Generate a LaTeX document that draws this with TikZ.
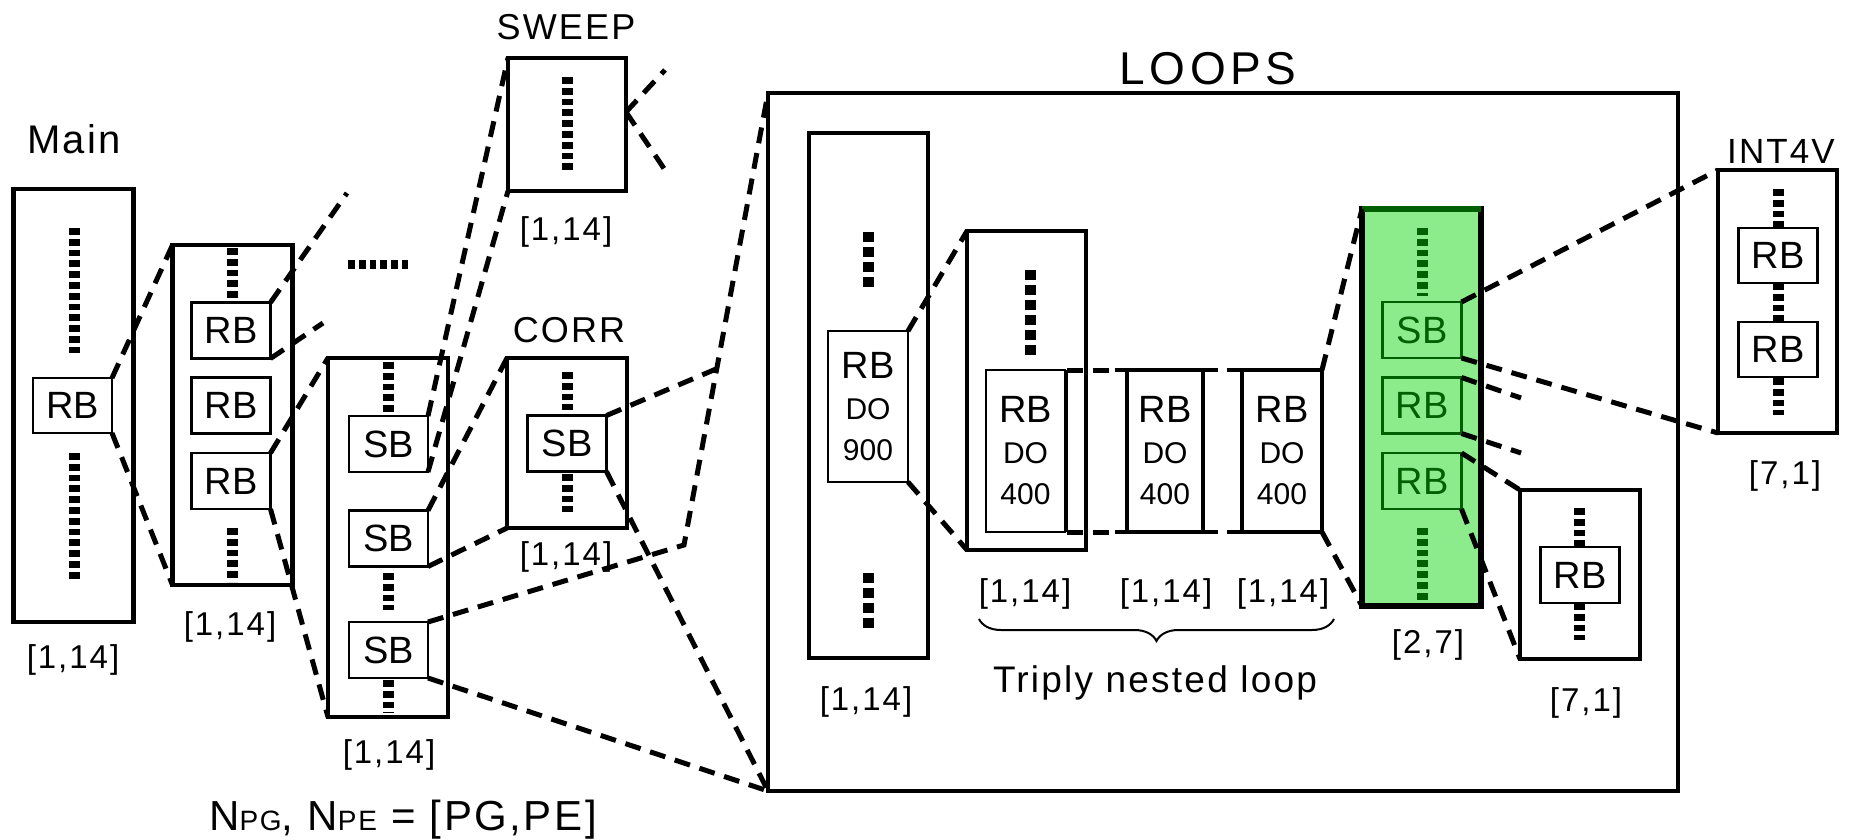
\documentclass[tikz,border=0pt]{standalone}
\usepackage{fontspec}
\setmainfont{Liberation Sans}
\newfontfamily\spaced{Liberation Sans}[LetterSpace=6]
\newfontfamily\wide{Liberation Sans}[LetterSpace=10]
\usetikzlibrary{calc,decorations.pathreplacing}
\definecolor{leaf}{RGB}{140,236,140}
\definecolor{deepgreen}{RGB}{0,95,0}
\tikzset{
  base/.style={inner sep=0pt, outer sep=0pt},
  blk/.style={base, draw, line width=2.2pt},
  col/.style={blk, minimum width=60pt},
  sub/.style={base, draw, fill=white, line width=1.3pt, font=\fontsize{19}{20}\selectfont},
  rb/.style={sub, minimum width=39.5pt, minimum height=28pt},
  doblk/.style={sub, align=center, font=\fontsize{19}{20.5}\selectfont},
  lbl/.style={base, anchor=base, font=\spaced\fontsize{16.5}{18}\selectfont},
  head/.style={base, anchor=base, font=\spaced\fontsize{18}{20}\selectfont},
  link/.style={line width=2.5pt, dash pattern=on 8pt off 5pt},
  dots/.style={line width=5.5pt, dash pattern=on 3.4pt off 2pt},
  ldots/.style={line width=5.5pt, dash pattern=on 5pt off 2.5pt},
}
\newcommand{\dolbl}[1]{RB\\{\fontsize{15}{20.5}\selectfont DO}\\{\fontsize{15}{20.5}\selectfont #1}}

\begin{document}
\begin{tikzpicture}[x=0.5pt,y=-0.5pt]
  \useasboundingbox (0,0) rectangle (1849,840);

  % outer boxes
  \node[col, minimum height=216.5pt] (main) at (73.5,405.5) {};
  \node[col, minimum height=170pt] (b2) at (232.5,415) {};
  \node[col, minimum height=179.5pt] (b3) at (388,537.5) {};
  \node[blk, minimum width=59pt, minimum height=66.5pt] (sweep) at (567,124.5) {};
  \node[col, minimum height=85pt] (corr) at (567,443) {};
  \node[blk, minimum width=455pt, minimum height=349pt] (loops) at (1223,442) {};
  \node[blk, minimum width=59.5pt, minimum height=262.5pt] (l1) at (868.5,395.5) {};
  \node[blk, minimum width=59.5pt, minimum height=159.5pt] (l2) at (1026.5,390.5) {};
  \node[blk, line width=2.6pt, fill=leaf, minimum width=59.5pt, minimum height=198.5pt] (green) at (1421.5,407.5) {};
  \draw[deepgreen, line width=2.6pt] (green.north west) -- (green.north east);
  \node[col, minimum height=84.5pt] (s71) at (1580,574.5) {};
  \node[blk, minimum width=59.5pt, minimum height=131.5pt] (int4v) at (1777.5,301.5) {};

  % dotted columns
  \draw[dots] (74,228) -- (74,353);
  \draw[dots] (74,453) -- (74,580);
  \draw[dots] (232,248) -- (232,298);
  \draw[dots] (232,528) -- (232,582);
  \draw[dots] (388,362) -- (388,412);
  \draw[dots] (388,573) -- (388,610);
  \draw[dots] (388,680) -- (388,713);
  \draw[dots] (567,77) -- (567,171);
  \draw[dots] (567,372) -- (567,410);
  \draw[dots] (567,474) -- (567,512);
  \draw[dots, line width=4.5pt] (348,264) -- (408,264);
  \draw[ldots] (868,232) -- (868,287);
  \draw[ldots] (868,573) -- (868,628);
  \draw[ldots] (1030,270) -- (1030,355);
  \draw[dots, deepgreen] (1422,228) -- (1422,296);
  \draw[dots, deepgreen] (1422,528) -- (1422,603);
  \draw[dots] (1579,508) -- (1579,547);
  \draw[dots] (1579,603) -- (1579,640);
  \draw[dots] (1778,189) -- (1778,228);
  \draw[dots] (1778,283) -- (1778,321);
  \draw[dots] (1778,378) -- (1778,415);

  % inner blocks
  \node[rb, minimum height=27.5pt] (mainrb) at (72.5,405.5) {RB};
  \node[rb] (b2rb1) at (231,330.5) {RB};
  \node[rb] (b2rb2) at (231,405.5) {RB};
  \node[rb] (b2rb3) at (231,481) {RB};
  \node[rb] (b3sb1) at (388.5,444) {SB};
  \node[rb] (b3sb2) at (388.5,538.5) {SB};
  \node[rb] (b3sb3) at (388.5,650) {SB};
  \node[rb] (corrsb) at (567,443.5) {SB};
  \node[doblk, minimum width=40pt, minimum height=75.5pt] (l1rb) at (868,406.5) {\dolbl{900}};
  \node[doblk, minimum width=39.5pt, minimum height=81pt] (l2rb) at (1025.5,451) {\dolbl{400}};
  \node[doblk, draw=none, fill=none, minimum width=38pt, minimum height=81pt] (l3) at (1165,451) {\dolbl{400}};
  \node[doblk, draw=none, fill=none, minimum width=40pt, minimum height=81pt] (l4) at (1282,451) {\dolbl{400}};
  \node[rb, fill=none, draw=deepgreen, text=deepgreen] (gsb) at (1422,330) {SB};
  \node[rb, fill=none, draw=deepgreen, text=deepgreen] (grb1) at (1422,405.5) {RB};
  \node[rb, fill=none, draw=deepgreen, text=deepgreen] (grb2) at (1422,481) {RB};
  \node[rb] (s71rb) at (1580,575) {RB};
  \node[rb, minimum height=27.5pt] (irb1) at (1778,255.5) {RB};
  \node[rb, minimum height=27.5pt] (irb2) at (1778,349.5) {RB};

  % nested loop frames
  \coordinate (brt) at (1067,370);
  \coordinate (brb) at (1067,532);
  \draw[line width=1.3pt] (brt) -- (brb);
  \draw[line width=2.2pt] ([xshift=-6pt]l3.north west) -- ([xshift=7.5pt]l3.north east);
  \draw[line width=2.2pt] ([xshift=-6pt]l3.south west) -- ([xshift=7.5pt]l3.south east);
  \draw[line width=2.2pt] (l3.north west) -- (l3.south west);
  \draw[line width=2.2pt] (l3.north east) -- (l3.south east);
  \draw[line width=2.2pt] ([xshift=-7.5pt]l4.north west) -- (l4.north east) -- (l4.south east) -- ([xshift=-7.5pt]l4.south west);
  \draw[line width=2.2pt] (l4.north west) -- (l4.south west);

  % titles and labels
  \node[head, font=\spaced\fontsize{20}{22}\selectfont] (maint) at (74,154) {Main};
  \node[head] (sweept) at (566,40) {SWEEP};
  \node[head] (corrt) at (569,342) {CORR};
  \node[head, font=\wide\fontsize{23}{25}\selectfont] (loopst) at (1208,85) {LOOPS};
  \node[head, font=\spaced\fontsize{17.5}{19}\selectfont] (int4vt) at (1781,163) {INT4V};
  \node[lbl] (mainidx) at (73,668) {[1,14]};
  \node[lbl] (b2idx) at (230,635) {[1,14]};
  \node[lbl] (b3idx) at (389,763) {[1,14]};
  \node[lbl] (sweepidx) at (566,241) {[1,14]};
  \node[lbl] (corridx) at (566,565) {[1,14]};
  \node[lbl] (l1idx) at (866,710) {[1,14]};
  \node[lbl] (l2idx) at (1025,602) {[1,14]};
  \node[lbl] (l3idx) at (1166,602) {[1,14]};
  \node[lbl] (l4idx) at (1283,602) {[1,14]};
  \node[lbl] (gidx) at (1428,653) {[2,7]};
  \node[lbl] (s71idx) at (1586,711) {[7,1]};
  \node[lbl] (iidx) at (1785,484) {[7,1]};
  \draw[decorate, decoration={brace, mirror, amplitude=11pt}, line width=1pt] (979,619) -- (1334,619);
  \node[head, font=\spaced\fontsize{18.5}{20}\selectfont] (triply) at (1155,692) {Triply nested loop};
  \node[head, font=\spaced\fontsize{21}{22}\selectfont] (npg) at (403,830)
    {N{\fontsize{14}{14}\selectfont PG}, N{\fontsize{14}{14}\selectfont PE} = [PG,PE]};

  % connectors
  \coordinate (b2stubA) at (347,193);
  \coordinate (b2stubB) at (323,323);
  \coordinate (sweepport) at (626,112);
  \coordinate (sweepA) at (665,70);
  \coordinate (sweepB) at (665,170);
  \coordinate (kink) at (684,545);
  \coordinate (gstubA) at (1521,398);
  \coordinate (gstubB) at (1521,453);
  \draw[link] (mainrb.north east) -- (b2.north west);
  \draw[link] (mainrb.south east) -- (b2.south west);
  \draw[link] (b2rb1.north east) -- (b2stubA);
  \draw[link] (b2rb1.south east) -- (b2stubB);
  \draw[link] (b2rb3.north east) -- (b3.north west);
  \draw[link] (b2rb3.south east) -- (b3.south west);
  \draw[link] (b3sb1.north east) -- (sweep.north west);
  \draw[link] (b3sb1.south east) -- (sweep.south west);
  \draw[link] (sweepport) -- (sweepA);
  \draw[link] (sweepport) -- (sweepB);
  \draw[link] (b3sb2.north east) -- (corr.north west);
  \draw[link] (b3sb2.south east) -- (corr.south west);
  \draw[link] (b3sb3.north east) -- (kink) -- (loops.north west);
  \draw[link] (corrsb.north east) -- ($(kink)!0.39!(loops.north west)$);
  \draw[link] (b3sb3.south east) -- (loops.south west);
  \draw[link] (corrsb.south east) -- (loops.south west);
  \draw[link] (l1rb.north east) -- (l2.north west);
  \draw[link] (l1rb.south east) -- (l2.south west);
  \draw[link] (brt) -- ([xshift=-6pt]l3.north west);
  \draw[link] (brb) -- ([xshift=-6pt]l3.south west);
  \draw[link] (l4.north east) -- (green.north west);
  \draw[link] (l4.south east) -- (green.south west);
  \draw[link] (gsb.north east) -- (int4v.north west);
  \draw[link] (gsb.south east) -- (int4v.south west);
  \draw[link] (grb1.north east) -- (gstubA);
  \draw[link] (grb1.south east) -- (gstubB);
  \draw[link] (grb2.north east) -- (s71.north west);
  \draw[link] (grb2.south east) -- (s71.south west);
\end{tikzpicture}
\end{document}
